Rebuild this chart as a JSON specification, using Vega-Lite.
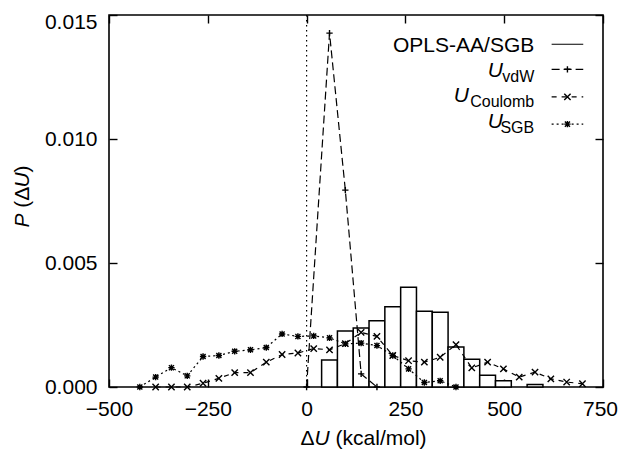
{
  "$schema": "https://vega.github.io/schema/vega-lite/v6.json",
  "width": 494,
  "height": 372,
  "autosize": {"type": "none"},
  "padding": {"left": 109, "top": 15, "right": 15, "bottom": 63},
  "config": {
    "font": "Liberation Sans",
    "view": {"stroke": "black", "strokeWidth": 1.6},
    "axis": {
      "domain": false,
      "grid": false,
      "tickSize": -8,
      "tickWidth": 1.4,
      "tickColor": "black",
      "labelFontSize": 21,
      "labelColor": "black",
      "labelFlush": false,
      "titleFontSize": 21,
      "titleFontWeight": "normal",
      "titleColor": "black"
    },
    "text": {"fontSize": 21, "color": "black"}
  },
  "datasets": {
    "hist": [
      {"lo": 38, "hi": 78, "p": 0.00109},
      {"lo": 78, "hi": 118, "p": 0.00226},
      {"lo": 118, "hi": 158, "p": 0.00238},
      {"lo": 158, "hi": 198, "p": 0.00267},
      {"lo": 198, "hi": 238, "p": 0.00324},
      {"lo": 238, "hi": 278, "p": 0.00402},
      {"lo": 278, "hi": 318, "p": 0.00305},
      {"lo": 318, "hi": 358, "p": 0.00301},
      {"lo": 358, "hi": 398, "p": 0.00161},
      {"lo": 398, "hi": 438, "p": 0.00112},
      {"lo": 438, "hi": 478, "p": 0.00047},
      {"lo": 478, "hi": 518, "p": 0.00025},
      {"lo": 558, "hi": 598, "p": 0.0001}
    ],
    "series": [
      {"series": "vdW", "x": 0, "p": 0},
      {"series": "vdW", "x": 58, "p": 0.01427},
      {"series": "vdW", "x": 98, "p": 0.00794},
      {"series": "vdW", "x": 138, "p": 0.00053},
      {"series": "vdW", "x": 178, "p": 0},
      {"series": "Coulomb", "x": -382, "p": 0},
      {"series": "Coulomb", "x": -342, "p": 0},
      {"series": "Coulomb", "x": -302, "p": 0},
      {"series": "Coulomb", "x": -262, "p": 0.00015},
      {"series": "Coulomb", "x": -222, "p": 0.00035},
      {"series": "Coulomb", "x": -182, "p": 0.00058},
      {"series": "Coulomb", "x": -142, "p": 0.00058},
      {"series": "Coulomb", "x": -102, "p": 0.001},
      {"series": "Coulomb", "x": -62, "p": 0.00131},
      {"series": "Coulomb", "x": -22, "p": 0.00137},
      {"series": "Coulomb", "x": 18, "p": 0.00155},
      {"series": "Coulomb", "x": 58, "p": 0.0015},
      {"series": "Coulomb", "x": 98, "p": 0.00175},
      {"series": "Coulomb", "x": 138, "p": 0.0022},
      {"series": "Coulomb", "x": 178, "p": 0.00204},
      {"series": "Coulomb", "x": 218, "p": 0.00127},
      {"series": "Coulomb", "x": 258, "p": 0.00106},
      {"series": "Coulomb", "x": 298, "p": 0.001},
      {"series": "Coulomb", "x": 338, "p": 0.0012},
      {"series": "Coulomb", "x": 378, "p": 0.00171},
      {"series": "Coulomb", "x": 418, "p": 0.00077},
      {"series": "Coulomb", "x": 458, "p": 0.001},
      {"series": "Coulomb", "x": 498, "p": 0.00073},
      {"series": "Coulomb", "x": 538, "p": 0.0004},
      {"series": "Coulomb", "x": 578, "p": 0.0006},
      {"series": "Coulomb", "x": 618, "p": 0.00033},
      {"series": "Coulomb", "x": 658, "p": 0.0002},
      {"series": "Coulomb", "x": 698, "p": 0.00013},
      {"series": "SGB", "x": -422, "p": 0},
      {"series": "SGB", "x": -382, "p": 0.0004},
      {"series": "SGB", "x": -342, "p": 0.00078},
      {"series": "SGB", "x": -302, "p": 0.00045},
      {"series": "SGB", "x": -262, "p": 0.00123},
      {"series": "SGB", "x": -222, "p": 0.00127},
      {"series": "SGB", "x": -182, "p": 0.00144},
      {"series": "SGB", "x": -142, "p": 0.0015},
      {"series": "SGB", "x": -102, "p": 0.00159},
      {"series": "SGB", "x": -62, "p": 0.00214},
      {"series": "SGB", "x": -22, "p": 0.00204},
      {"series": "SGB", "x": 18, "p": 0.00206},
      {"series": "SGB", "x": 58, "p": 0.00198},
      {"series": "SGB", "x": 98, "p": 0.00174},
      {"series": "SGB", "x": 138, "p": 0.00177},
      {"series": "SGB", "x": 178, "p": 0.00167},
      {"series": "SGB", "x": 218, "p": 0.00127},
      {"series": "SGB", "x": 258, "p": 0.00073},
      {"series": "SGB", "x": 298, "p": 0.00018},
      {"series": "SGB", "x": 338, "p": 0.00025},
      {"series": "SGB", "x": 378, "p": 0}
    ]
  },
  "layer": [
    {
      "data": {"values": [{}]},
      "layer": [
        {
          "data": {"name": "hist"},
          "mark": {"type": "rect", "fill": "white", "stroke": "black", "strokeWidth": 1.5},
          "encoding": {
            "x": {
              "field": "lo", "type": "quantitative", "title": null,
              "scale": {"domain": [-500, 750], "nice": false, "zero": false},
              "axis": {
                "values": [-500, -250, 0, 250, 500, 750],
                "labelPadding": 19,
                "labelOffset": {"condition": {"test": "datum.value == 750", "value": -3}, "value": 0}
              }
            },
            "x2": {"field": "hi"},
            "y": {
              "field": "p", "type": "quantitative", "title": null,
              "scale": {"domain": [0, 0.015], "nice": false},
              "axis": {
                "values": [0, 0.005, 0.01, 0.015],
                "format": ".3f",
                "labelPadding": 20,
                "labelOffset": {"condition": {"test": "datum.value == 0.015", "value": 7}, "value": 0}
              }
            },
            "y2": {"datum": 0}
          }
        },
        {
          "mark": {"type": "rule", "color": "black", "strokeWidth": 1.2, "strokeDash": [1.5, 3.5]},
          "encoding": {"x": {"datum": 0}}
        },
        {
          "data": {"name": "series"},
          "mark": {"type": "line", "color": "black", "strokeWidth": 1.2},
          "encoding": {
            "x": {"field": "x", "type": "quantitative", "title": null},
            "y": {"field": "p", "type": "quantitative", "title": null},
            "strokeDash": {
              "field": "series", "type": "nominal",
              "scale": {"domain": ["vdW", "Coulomb", "SGB"], "range": [[8, 4], [5, 5], [2, 3]]},
              "legend": null
            }
          }
        },
        {
          "data": {"name": "series"},
          "mark": {"type": "point", "filled": false, "color": "black", "strokeWidth": 1.4, "size": 40, "opacity": 1},
          "encoding": {
            "x": {"field": "x", "type": "quantitative", "title": null},
            "y": {"field": "p", "type": "quantitative", "title": null},
            "shape": {
              "field": "series", "type": "nominal",
              "scale": {
                "domain": ["vdW", "Coulomb", "SGB"],
                "range": ["M-1,0L1,0M0,-1L0,1", "M-1,-1L1,1M-1,1L1,-1", "M-1,0L1,0M0,-1L0,1M-0.8,-0.8L0.8,0.8M-0.8,0.8L0.8,-0.8"]
              },
              "legend": null
            }
          }
        },
        {
          "mark": {"type": "text", "align": "right", "baseline": "alphabetic", "text": "Δ"},
          "encoding": {"x": {"datum": 20}, "y": {"datum": -0.00234}}
        },
        {
          "mark": {"type": "text", "align": "left", "baseline": "alphabetic", "fontStyle": "italic", "text": "U"},
          "encoding": {"x": {"datum": 20}, "y": {"datum": -0.00234}}
        },
        {
          "mark": {"type": "text", "align": "left", "baseline": "alphabetic", "text": "(kcal/mol)"},
          "encoding": {"x": {"datum": 73.3}, "y": {"datum": -0.00234}}
        },
        {
          "mark": {"type": "text", "align": "left", "baseline": "alphabetic", "angle": 270, "fontStyle": "italic", "text": "P"},
          "encoding": {"x": {"datum": -702}, "y": {"datum": 0.00643}}
        },
        {
          "mark": {"type": "text", "align": "left", "baseline": "alphabetic", "angle": 270, "text": "(Δ"},
          "encoding": {"x": {"datum": -702}, "y": {"datum": 0.00723}}
        },
        {
          "mark": {"type": "text", "align": "left", "baseline": "alphabetic", "angle": 270, "fontStyle": "italic", "text": "U"},
          "encoding": {"x": {"datum": -702}, "y": {"datum": 0.00804}}
        },
        {
          "mark": {"type": "text", "align": "left", "baseline": "alphabetic", "angle": 270, "text": ")"},
          "encoding": {"x": {"datum": -702}, "y": {"datum": 0.00865}}
        },
        {
          "mark": {"type": "text", "align": "right", "baseline": "alphabetic", "text": "OPLS-AA/SGB"},
          "encoding": {"x": {"datum": 576}, "y": {"datum": 0.0135}}
        },
        {
          "mark": {"type": "rule", "color": "black", "strokeWidth": 1.2},
          "encoding": {"x": {"datum": 620}, "x2": {"datum": 700}, "y": {"datum": 0.01382}}
        },
        {
          "mark": {"type": "text", "align": "right", "baseline": "alphabetic", "fontStyle": "italic", "text": "U"},
          "encoding": {"x": {"datum": 497}, "y": {"datum": 0.01251}}
        },
        {
          "mark": {"type": "text", "align": "right", "baseline": "alphabetic", "fontSize": 16, "text": "vdW", "dy": 5},
          "encoding": {"x": {"datum": 576}, "y": {"datum": 0.01251}}
        },
        {
          "mark": {"type": "rule", "color": "black", "strokeWidth": 1.2, "strokeDash": [8, 4]},
          "encoding": {"x": {"datum": 620}, "x2": {"datum": 700}, "y": {"datum": 0.01281}}
        },
        {
          "mark": {"type": "point", "filled": false, "color": "black", "strokeWidth": 1.4, "size": 40, "opacity": 1, "shape": "M-1,0L1,0M0,-1L0,1"},
          "encoding": {"x": {"datum": 660}, "y": {"datum": 0.01281}}
        },
        {
          "mark": {"type": "text", "align": "right", "baseline": "alphabetic", "fontStyle": "italic", "text": "U"},
          "encoding": {"x": {"datum": 411}, "y": {"datum": 0.0115}}
        },
        {
          "mark": {"type": "text", "align": "right", "baseline": "alphabetic", "fontSize": 16, "text": "Coulomb", "dy": 5},
          "encoding": {"x": {"datum": 576}, "y": {"datum": 0.0115}}
        },
        {
          "mark": {"type": "rule", "color": "black", "strokeWidth": 1.2, "strokeDash": [5, 5]},
          "encoding": {"x": {"datum": 620}, "x2": {"datum": 700}, "y": {"datum": 0.0117}}
        },
        {
          "mark": {"type": "point", "filled": false, "color": "black", "strokeWidth": 1.4, "size": 40, "opacity": 1, "shape": "M-1,-1L1,1M-1,1L1,-1"},
          "encoding": {"x": {"datum": 660}, "y": {"datum": 0.0117}}
        },
        {
          "mark": {"type": "text", "align": "right", "baseline": "alphabetic", "fontStyle": "italic", "text": "U"},
          "encoding": {"x": {"datum": 497}, "y": {"datum": 0.01043}}
        },
        {
          "mark": {"type": "text", "align": "right", "baseline": "alphabetic", "fontSize": 16, "text": "SGB", "dy": 5},
          "encoding": {"x": {"datum": 576}, "y": {"datum": 0.01043}}
        },
        {
          "mark": {"type": "rule", "color": "black", "strokeWidth": 1.2, "strokeDash": [2, 3]},
          "encoding": {"x": {"datum": 620}, "x2": {"datum": 700}, "y": {"datum": 0.0106}}
        },
        {
          "mark": {"type": "point", "filled": false, "color": "black", "strokeWidth": 1.4, "size": 40, "opacity": 1, "shape": "M-1,0L1,0M0,-1L0,1M-0.8,-0.8L0.8,0.8M-0.8,0.8L0.8,-0.8"},
          "encoding": {"x": {"datum": 660}, "y": {"datum": 0.0106}}
        }
      ]
    },
    {
      "data": {"name": "hist"},
      "mark": {"type": "point", "opacity": 0},
      "encoding": {
        "x": {
          "field": "lo", "type": "quantitative",
          "scale": {"domain": [-500, 750], "nice": false, "zero": false},
          "axis": {"orient": "top", "labels": false, "title": null, "values": [-500, -250, 0, 250, 500, 750]}
        },
        "y": {
          "field": "p", "type": "quantitative",
          "scale": {"domain": [0, 0.015], "nice": false},
          "axis": {"orient": "right", "labels": false, "title": null, "values": [0, 0.005, 0.01, 0.015]}
        }
      }
    }
  ],
  "resolve": {"scale": {"x": "independent", "y": "independent"}}
}
